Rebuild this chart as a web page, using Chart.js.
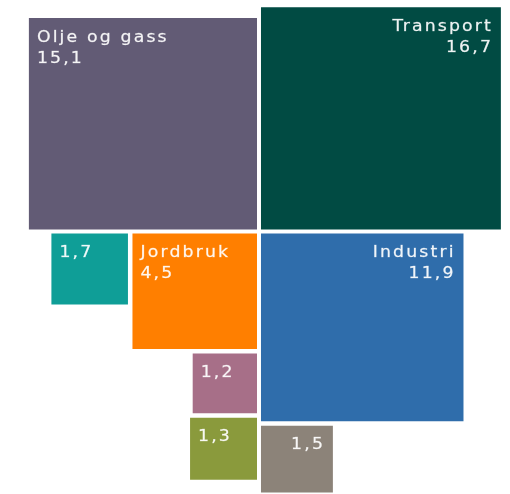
<!DOCTYPE html>
<html>
<head>
<meta charset="utf-8">
<script src="https://cdn.jsdelivr.net/npm/chart.js@4"></script>
<style>
  body { margin: 0; background: #fff; }
  canvas { display: block; }
</style>
</head>
<body>
<canvas id="chart" width="510" height="494"></canvas>
<script>
// Kategorier og verdier (arealet av hver rute er proporsjonalt med verdien)
const names = ["Olje og gass", "Transport", "Industri", "Jordbruk", "", "", "", ""];
const values = [15.1, 16.7, 11.9, 4.5, 1.7, 1.2, 1.3, 1.5];
const valueLabels = ["15,1", "16,7", "11,9", "4,5", "1,7", "1,2", "1,3", "1,5"];
const colors = ["#625b75", "#014b43", "#2f6dab", "#ff7f00", "#0f9e97", "#a76f88", "#8a9a3c", "#8c8379"];

// Plassering rundt midtpunktet (0,0), i enheter av sqrt(verdi)
const gx = 0.034, gy = 0.037; // halvt mellomrom ved midten
const sx = 0.077, sy = 0.085; // mellomrom mellom ruter

function layout() {
  const s = values.map((v) => Math.sqrt(v));
  const r = [];
  // Olje og gass: over til venstre
  r[0] = { x1: -gx, x0: -gx - s[0], y0: gy, y1: gy + s[0] };
  // Transport: over til høyre
  r[1] = { x0: gx, x1: gx + s[1], y0: gy, y1: gy + s[1] };
  // Industri: under til høyre
  r[2] = { x0: gx, x1: gx + s[2], y1: -gy, y0: -gy - s[2] };
  // Jordbruk: under til venstre
  r[3] = { x1: -gx, x0: -gx - s[3], y1: -gy, y0: -gy - s[3] };
  // 1,7 til venstre for Jordbruk
  r[4] = { x1: r[3].x0 - sx, x0: r[3].x0 - sx - s[4], y1: -gy, y0: -gy - s[4] };
  // 1,2 under Jordbruk
  r[5] = { x1: -gx, x0: -gx - s[5], y1: r[3].y0 - sy, y0: r[3].y0 - sy - s[5] };
  // 1,3 under 1,2
  r[6] = { x1: -gx, x0: -gx - s[6], y1: r[5].y0 - sy, y0: r[5].y0 - sy - s[6] };
  // 1,5 under Industri
  r[7] = { x0: gx, x1: gx + s[7], y1: r[2].y0 - sy, y0: r[2].y0 - sy - s[7] };
  return r;
}

const rects = layout();

const datasets = rects.map((b, i) => ({
  label: names[i] || valueLabels[i],
  data: [
    { x: b.x0, y: b.y0 },
    { x: b.x1, y: b.y0 },
    { x: b.x1, y: b.y1 },
    { x: b.x0, y: b.y1 },
    { x: b.x0, y: b.y0 },
  ],
  showLine: true,
  fill: "shape",
  backgroundColor: colors[i],
  borderColor: colors[i],
  borderWidth: 0,
  pointRadius: 0,
  tension: 0,
}));

// Tekst i rutene
const boxLabels = {
  id: "boxLabels",
  afterDatasetsDraw(chart) {
    const ctx = chart.ctx;
    const xs = chart.scales.x;
    const ys = chart.scales.y;
    const spacing = 2;
    const stretch = 1.08;
    ctx.save();
    ctx.font = "16px 'DejaVu Sans'";
    ctx.fillStyle = "rgba(255,255,255,0.93)";
    ctx.strokeStyle = "rgba(255,255,255,0.5)";
    ctx.lineWidth = 0.4;
    ctx.textBaseline = "alphabetic";
    if ("letterSpacing" in ctx) ctx.letterSpacing = spacing + "px";
    rects.forEach((b, i) => {
      const left = xs.getPixelForValue(b.x0);
      const right = xs.getPixelForValue(b.x1);
      const top = ys.getPixelForValue(b.y1);
      const lines = names[i] ? [names[i], valueLabels[i]] : [valueLabels[i]];
      const rightSide = b.x0 > 0;
      lines.forEach((t, j) => {
        const y = top + 23.5 + j * 21;
        ctx.save();
        if (rightSide) {
          ctx.textAlign = "right";
          ctx.translate(right - 10, y);
          ctx.scale(stretch, 1);
          ctx.fillText(t, spacing, 0);
          ctx.strokeText(t, spacing, 0);
        } else {
          ctx.textAlign = "left";
          ctx.translate(left + 8, y);
          ctx.scale(stretch, 1);
          ctx.fillText(t, 0, 0);
          ctx.strokeText(t, 0, 0);
        }
        ctx.restore();
      });
    });
    ctx.restore();
  },
};

new Chart(document.getElementById("chart"), {
  type: "scatter",
  data: { datasets: datasets },
  options: {
    responsive: false,
    animation: false,
    layout: { padding: 0 },
    plugins: {
      legend: { display: false },
      tooltip: { enabled: false },
    },
    scales: {
      x: { type: "linear", min: -4.412, max: 4.276, display: false },
      y: { type: "linear", min: -4.825, max: 4.256, display: false },
    },
  },
  plugins: [boxLabels],
});
</script>
</body>
</html>
